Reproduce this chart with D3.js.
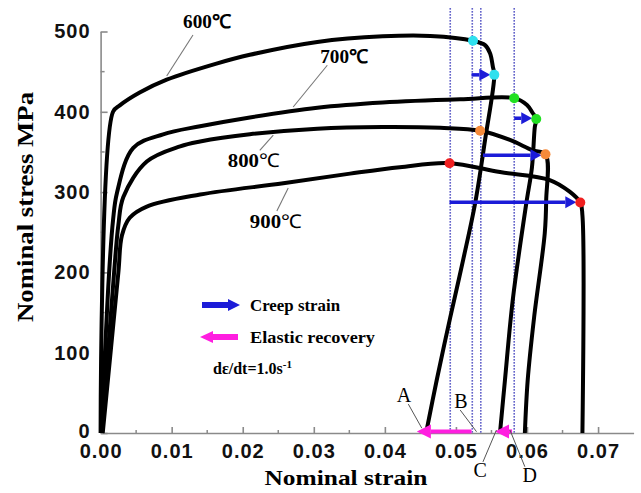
<!DOCTYPE html>
<html>
<head>
<meta charset="utf-8">
<script src="https://cdn.jsdelivr.net/npm/d3@7"></script>
<style>
  body { margin: 0; background: #fff; }
  svg { display: block; }
  .tick text { font-family: "Liberation Sans", Arial, sans-serif; font-weight: bold; font-size: 20px; letter-spacing: 1px; fill: #111; }
  .serif { font-family: "Liberation Serif", "Times New Roman", serif; }
</style>
</head>
<body>
<div id="chart"></div>
<script>
// ---- data (strain, nominal stress MPa) ----
const temps = ["600", "700", "800", "900"];

const curve600 = [[0,0],[0.00175,400],[0.0027,408],[0.0055,424],[0.0093,440],[0.0163,460],
  [0.021,471],[0.0305,487],[0.0397,494],[0.0464,494.5],[0.0524,488.5],[0.0541,483],[0.0548,473],[0.0552,456],
  [0.0554,446],[0.0541,365],[0.0527,286],[0.051,215],[0.0492,144],[0.0473,66],[0.0458,0]];

const curve700 = [[0.0001,0],[0.0012,200],[0.00175,265],[0.0023,299],[0.0046,355],[0.0088,372],[0.014,382],
  [0.021,393],[0.0305,405],[0.0397,411.5],[0.0506,415.5],[0.0582,417],[0.06,408.5],[0.0608,398.5],[0.0613,391],
  [0.0611,381],[0.0607,331],[0.0599,286],[0.058,166],[0.0569,66],[0.0562,0]];

const curve800 = [[0.0002,0],[0.0019,200],[0.0025,259],[0.0032,294],[0.0065,338],[0.0112,357],[0.014,363],
  [0.021,372],[0.0305,379],[0.0397,381],[0.0478,380],[0.0534,376.5],[0.0576,365],[0.0608,352],[0.0626,347],
  [0.0627,290],[0.0625,249],[0.061,144],[0.0601,66],[0.0597,0]];

const curve900 = [[0.0003,0],[0.0025,200],[0.003,246],[0.0041,268],[0.0065,282],[0.014,297],
  [0.0257,311],[0.0351,323],[0.0421,331],[0.049,336],[0.0562,325],[0.0632,315],[0.066,300.5],
  [0.0675,287],[0.0678,271],[0.0678,0]];

const curves = [curve600, curve700, curve800, curve900];

// marked points on the curves
const dotStrain = [0.0524, 0.0554, 0.0582, 0.0613, 0.0534, 0.0626, 0.0491, 0.0675];
const dotStress = [488.5, 446, 417, 391, 376.5, 347, 336, 287];
const dotColor  = ["#2fe0ee", "#2fe0ee", "#22e022", "#22e022", "#f58a3a", "#f58a3a", "#f02020", "#f02020"];

// vertical reference strains
const guideStrain = [0.0492, 0.0523, 0.0535, 0.0582];

// creep strain arrows: from strain, to strain, stress
const creepFrom   = [0.0522, 0.0582, 0.0538, 0.0491];
const creepTo     = [0.0554, 0.0613, 0.0626, 0.0675];
const creepStress = [446, 392, 346, 287.5];

// elastic recovery arrows at zero stress
const elasticFrom = [0.0522, 0.0579];
const elasticTo   = [0.0445, 0.0555];

const xTicks = [0, 0.01, 0.02, 0.03, 0.04, 0.05, 0.06, 0.07];
const yTicks = [0, 100, 200, 300, 400, 500];

// ---- chart ----
const width = 641, height = 493;

const svg = d3.select("#chart").append("svg")
  .attr("width", width)
  .attr("height", height);

svg.append("rect").attr("width", width).attr("height", height).attr("fill", "#fff");

const x = d3.scaleLinear().domain([0, 0.075]).range([100.6, 633.6]);
const y = d3.scaleLinear().domain([0, 500]).range([433, 31.5]);

// axes (inward ticks)
const axisColor = "#8a8a8a";

const xAxis = svg.append("g")
  .attr("transform", `translate(0,${y(0)})`)
  .call(d3.axisBottom(x).tickValues(xTicks).tickFormat(d3.format(".2f"))
    .tickSizeInner(-6).tickSizeOuter(0).tickPadding(11));
xAxis.append("g").selectAll("line")
  .data(d3.range(0.005, 0.075, 0.01))
  .join("line")
  .attr("x1", d => x(d)).attr("x2", d => x(d))
  .attr("y1", 0).attr("y2", -3)
  .attr("stroke", axisColor).attr("stroke-width", 1.5);

const yAxis = svg.append("g")
  .attr("transform", `translate(${x(0)},0)`)
  .call(d3.axisLeft(y).tickValues(yTicks)
    .tickSizeInner(-7).tickSizeOuter(0).tickPadding(10));
yAxis.selectAll(".tick text").filter(d => d === 0).attr("dy", "0.2em");
yAxis.append("g").selectAll("line")
  .data([50, 150, 250, 350, 450])
  .join("line")
  .attr("x1", 0).attr("x2", 4)
  .attr("y1", d => y(d)).attr("y2", d => y(d))
  .attr("stroke", axisColor).attr("stroke-width", 1.5);

svg.selectAll(".domain, .tick line").attr("stroke", axisColor).attr("stroke-width", 1.6);

// axis titles
svg.append("text")
  .attr("class", "serif")
  .attr("transform", `translate(33,207) rotate(-90)`)
  .attr("text-anchor", "middle")
  .attr("font-size", 24).attr("font-weight", "bold")
  .attr("textLength", 230).attr("lengthAdjust", "spacingAndGlyphs")
  .text("Nominal stress MPa");

svg.append("text")
  .attr("class", "serif")
  .attr("x", 346).attr("y", 485)
  .attr("text-anchor", "middle")
  .attr("font-size", 22).attr("font-weight", "bold")
  .attr("textLength", 163).attr("lengthAdjust", "spacingAndGlyphs")
  .text("Nominal strain");

// dotted guide lines
svg.append("g").selectAll("line")
  .data(guideStrain)
  .join("line")
  .attr("x1", d => x(d)).attr("x2", d => x(d))
  .attr("y1", y(529)).attr("y2", y(0))
  .attr("stroke", "#2f2fb8").attr("stroke-width", 1.6)
  .attr("stroke-dasharray", "1.2,1.8");

// curves
const line = d3.line()
  .x(d => x(d[0]))
  .y(d => y(d[1]))
  .curve(d3.curveCatmullRom.alpha(0.5));

svg.append("g").selectAll("path")
  .data(curves)
  .join("path")
  .attr("d", line)
  .attr("fill", "none")
  .attr("stroke", "#000")
  .attr("stroke-width", 4)
  .attr("stroke-linejoin", "round");

// arrows helper: horizontal arrow from x0 to x1 (pixels) at y
function arrow(g, x0, x1, yy, color, lw, headLen, headHalf) {
  const dir = x1 > x0 ? 1 : -1;
  const base = x1 - dir * headLen;
  g.append("line")
    .attr("x1", x0).attr("x2", base)
    .attr("y1", yy).attr("y2", yy)
    .attr("stroke", color).attr("stroke-width", lw);
  g.append("path")
    .attr("d", `M${x1},${yy}L${base},${yy - headHalf}L${base},${yy + headHalf}Z`)
    .attr("fill", color);
}

const arrows = svg.append("g");
creepFrom.forEach((f, i) => {
  arrow(arrows, x(f), x(creepTo[i]) - 4, y(creepStress[i]), "#1c1cd8", 3.5, 11, 6);
});
elasticFrom.forEach((f, i) => {
  arrow(arrows, x(f), x(elasticTo[i]), y(2), "#ff1ee0", 4, 14, 7);
});

// dots
svg.append("g").selectAll("circle")
  .data(dotStrain)
  .join("circle")
  .attr("cx", d => x(d))
  .attr("cy", (d, i) => y(dotStress[i]))
  .attr("r", 5)
  .attr("fill", (d, i) => dotColor[i]);

// temperature labels with leader lines (data coordinates)
const tempLabelAt = [[0.0116, 504], [0.0309, 461], [0.0179, 331], [0.021, 255]];
const tempLeader  = [[[0.013, 495.6], [0.0093, 444.6]], [[0.0319, 458], [0.0271, 406]],
                     [[0.0224, 352], [0.0243, 371]], [[0.0248, 276.5], [0.0264, 305]]];

const ann = svg.append("g");
tempLeader.forEach(seg => {
  ann.append("line")
    .attr("x1", x(seg[0][0])).attr("y1", y(seg[0][1]))
    .attr("x2", x(seg[1][0])).attr("y2", y(seg[1][1]))
    .attr("stroke", "#777").attr("stroke-width", 1.1);
});
temps.forEach((t, i) => {
  const txt = ann.append("text")
    .attr("class", "serif")
    .attr("x", x(tempLabelAt[i][0])).attr("y", y(tempLabelAt[i][1]))
    .attr("font-size", 19)
    .attr("textLength", i < 2 ? 48 : 52).attr("lengthAdjust", "spacingAndGlyphs");
  txt.append("tspan").attr("font-weight", "bold").text(t);
  txt.append("tspan").attr("font-weight", i < 2 ? "bold" : "normal").text("℃");
});

// letters A-D
const letters = ["A", "B", "C", "D"];
const letterAt = [[0.0427, 47], [0.0507, 40], [0.0534, -46], [0.0604, -52]];
const letterLeader = [[[0.0433, 36], [0.0452, 6]], [[0.0506, 28.6], [0.0529, 1.6]],
                      [[0.0538, -36], [0.0557, 3.7]], [[0.0597, -42], [0.0576, 3.7]]];
letterLeader.forEach(seg => {
  ann.append("line")
    .attr("x1", x(seg[0][0])).attr("y1", y(seg[0][1]))
    .attr("x2", x(seg[1][0])).attr("y2", y(seg[1][1]))
    .attr("stroke", "#555").attr("stroke-width", 1);
});
letters.forEach((l, i) => {
  ann.append("text")
    .attr("class", "serif")
    .attr("x", x(letterAt[i][0])).attr("y", y(letterAt[i][1]))
    .attr("dy", "0.35em")
    .attr("text-anchor", "middle")
    .attr("font-size", 20)
    .text(l);
});

// legend
const legend = svg.append("g");
arrow(legend, 202, 240, 305, "#1c1cd8", 6, 12, 6);
arrow(legend, 238, 200, 337, "#ff1ee0", 6, 13, 6);
legend.append("text").attr("class", "serif")
  .attr("x", 250).attr("y", 311)
  .attr("font-size", 17).attr("font-weight", "bold")
  .attr("textLength", 90).attr("lengthAdjust", "spacingAndGlyphs")
  .text("Creep strain");
legend.append("text").attr("class", "serif")
  .attr("x", 250).attr("y", 343)
  .attr("font-size", 17).attr("font-weight", "bold")
  .attr("textLength", 125).attr("lengthAdjust", "spacingAndGlyphs")
  .text("Elastic recovery");
const rate = legend.append("text").attr("class", "serif")
  .attr("x", 213).attr("y", 374)
  .attr("font-size", 16).attr("font-weight", "bold");
rate.append("tspan").text("dε/dt=1.0s");
rate.append("tspan").attr("dy", -6).attr("font-size", 11).text("-1");
</script>
</body>
</html>
